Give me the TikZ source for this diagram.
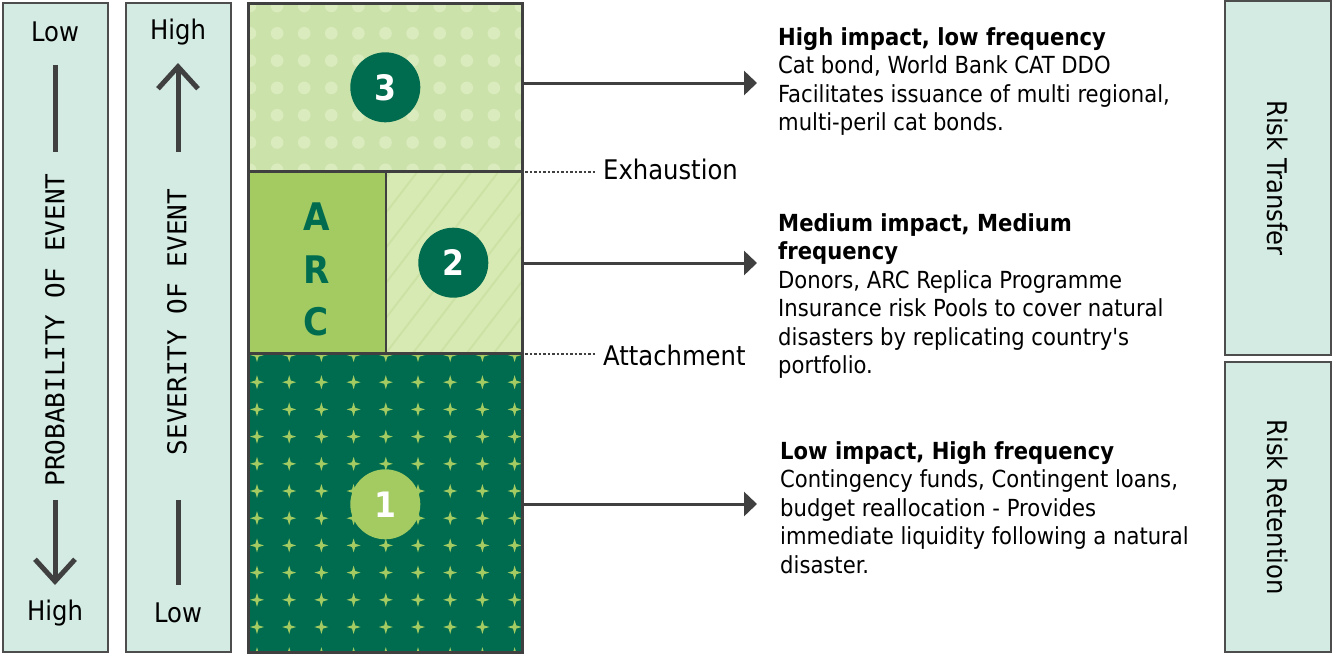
\documentclass[tikz,border=0pt]{standalone}
\usepackage{fontspec}
\setmainfont{DejaVu Sans Condensed}
\newfontfamily\monof{DejaVu Sans Mono}
\usetikzlibrary{arrows.meta}
\definecolor{mint}{HTML}{D4EBE4}
\definecolor{edge}{HTML}{4D4D4D}
\definecolor{ink}{HTML}{404040}
\definecolor{dkgreen}{HTML}{006C4F}
\definecolor{ltgreen}{HTML}{A3CB62}
\definecolor{pale}{HTML}{CCE2AB}
\definecolor{paledot}{HTML}{DAEBBE}
\definecolor{pale2}{HTML}{D8EAB3}
\definecolor{pale2line}{HTML}{CCE2A5}
\tikzset{
  panel/.style={draw=edge, line width=2pt, fill=mint, inner sep=0},
  lbl/.style={font=\fontsize{27}{32}\selectfont, inner sep=0},
  axislbl/.style={font=\monof\fontsize{26}{30}\selectfont, rotate=90, inner sep=0},
  bar/.style={ink, line width=5pt},
  chev/.style={ink, line width=5pt, -{Straight Barb[length=22pt,width=40pt]}},
  num/.style={circle, minimum size=70pt, inner sep=0, font=\bfseries\fontsize{35}{35}\selectfont, text=white},
  arcl/.style={font=\bfseries\fontsize{38}{38}\selectfont, text=dkgreen, inner sep=0},
  conn/.style={ink, line width=3pt, -{Triangle[length=13pt,width=24pt]}},
  dotline/.style={ink, line width=2.8pt, dash pattern=on 2.5pt off 2pt},
  body/.style={font=\fontsize{23.5}{28.5}\selectfont, align=left, anchor=north west, inner sep=0},
  side/.style={panel, rotate=-90, font=\fontsize{27}{32}\selectfont},
  border/.style={draw=ink, line width=3pt},
}
\begin{document}
\begin{tikzpicture}[x=1pt,y=-1pt]
\useasboundingbox (0,0) rectangle (1332,654);
% left panels
\node[panel, minimum width=105pt, minimum height=649pt] (p1) at (55.5,327.5) {};
\node[panel, minimum width=105pt, minimum height=649pt] (p2) at (178.5,327.5) {};
\node[lbl] (p1top) at (55,32) {Low};
\node[lbl] (p1bot) at (55,613) {High};
\node[lbl] (p2top) at (178,32) {High};
\node[lbl] (p2bot) at (178,613) {Low};
\node[axislbl] (p1ax) at (55,330) {PROBABILITY OF EVENT};
\node[axislbl] (p2ax) at (177,322) {SEVERITY OF EVENT};
\draw[bar] (55,65) -- (55,152);
\draw[chev] (55,500) -- (55,585);
\draw[chev] (178,152) -- (178,63);
\draw[bar] (178,500) -- (178,585);
% section 3
\fill[pale] (248,3) rectangle (522,171);
\begin{scope}
\clip (248,3) rectangle (522,171);
\foreach \i in {0,...,10} \foreach \j in {0,...,6}
  \fill[paledot] ({250+27.1*\i},{6+27.3*\j}) circle (6.3);
\end{scope}
% section 2
\fill[ltgreen] (248,171) rectangle (386,353);
\fill[pale2] (386,171) rectangle (522,353);
\begin{scope}
\clip (386,171) rectangle (522,353);
\foreach \k in {-10,...,8}
  \draw[pale2line, line width=2pt] ({386+27*\k},353) -- ++(200,-260);
\end{scope}
% section 1
\fill[dkgreen] (248,353) rectangle (522,652);
\begin{scope}
\clip (248,353) rectangle (522,652);
\foreach \i in {0,...,8} \foreach \j in {0,...,11}
  \fill[ltgreen, shift={({257+32.2*\i},{355+27.2*\j})}]
    (-7,0) -- (-1.6,-1.6) -- (0,-7) -- (1.6,-1.6) -- (7,0) -- (1.6,1.6) -- (0,7) -- (-1.6,1.6) -- cycle;
\end{scope}
% borders
\draw[border] (248,3) rectangle (522,652);
\draw[border] (248,171) -- (522,171);
\draw[border] (248,353) -- (522,353);
\draw[border, line width=2.5pt] (386,171) -- (386,353);
% labels in column
\node[arcl] (la) at (316.5,217) {A};
\node[arcl] (lr) at (316.5,270) {R};
\node[arcl] (lc) at (316.5,322) {C};
\node[num, fill=dkgreen] (n3) at (385.3,87.3) {3};
\node[num, fill=dkgreen] (n2) at (453.3,262.7) {2};
\node[num, fill=ltgreen] (n1) at (385.3,504.3) {1};
% thresholds
\node[lbl, anchor=west] (exh) at (603,169) {Exhaustion};
\node[lbl, anchor=west] (att) at (603,355) {Attachment};
\coordinate (ex0) at (525,172);
\coordinate (at0) at (525,354);
\draw[dotline] (ex0) -- (ex0 -| exh.west) [shorten >=8pt];
\draw[dotline] (at0) -- (at0 -| att.west) [shorten >=8pt];
% text blocks
\node[body] (t3) at (778,27) {\textbf{High impact, low frequency}\\Cat bond, World Bank CAT DDO\\Facilitates issuance of multi regional,\\multi-peril cat bonds.};
\node[body] (t2) at (778,213) {\textbf{Medium impact, Medium}\\\textbf{frequency}\\Donors, ARC Replica Programme\\Insurance risk Pools to cover natural\\disasters by replicating country\textquotesingle s\\portfolio.};
\node[body] (t1) at (780,441) {\textbf{Low impact, High frequency}\\Contingency funds, Contingent loans,\\budget reallocation - Provides\\immediate liquidity following a natural\\disaster.};
% connectors
\coordinate (s3) at (523,83);
\coordinate (s2) at (523,263);
\coordinate (s1) at (523,504);
\draw[conn, shorten >=21pt] (s3) -- (s3 -| t3.west);
\draw[conn, shorten >=21pt] (s2) -- (s2 -| t2.west);
\draw[conn, shorten >=23pt] (s1) -- (s1 -| t1.west);
% right panels
\node[side, minimum width=354pt, minimum height=106pt] (rt) at (1278,178) {Risk Transfer};
\node[side, minimum width=290pt, minimum height=106pt] (rr) at (1278,507) {Risk Retention};
\end{tikzpicture}
\end{document}
